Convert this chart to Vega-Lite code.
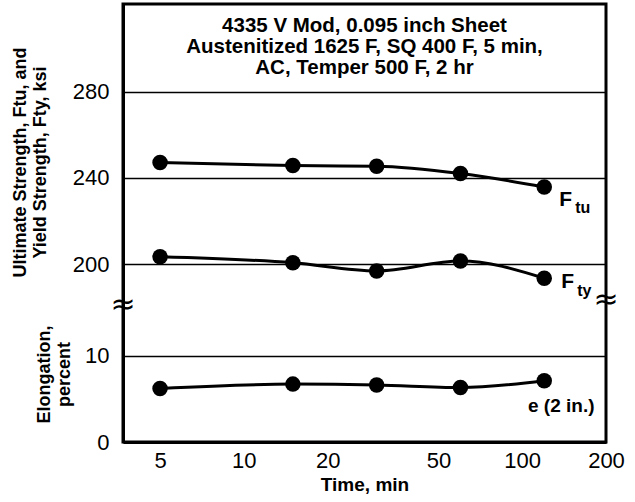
{
  "$schema": "https://vega.github.io/schema/vega-lite/v6.json",
  "width": 483,
  "height": 438,
  "autosize": "none",
  "padding": {"left": 123, "top": 4, "right": 29, "bottom": 60},
  "background": "white",
  "config": {
    "view": {"stroke": "black", "strokeWidth": 3},
    "font": "Liberation Sans",
    "axis": {"labelColor": "black", "titleColor": "black", "domainColor": "black", "gridColor": "black", "gridOpacity": 1, "ticks": false, "labelFlush": false, "labelOverlap": false}
  },
  "datasets": {
    "strength": [
      {"t": 5, "series": "Ftu", "v": 247.1},
      {"t": 15, "series": "Ftu", "v": 245.7},
      {"t": 30, "series": "Ftu", "v": 245.4},
      {"t": 60, "series": "Ftu", "v": 242.0},
      {"t": 120, "series": "Ftu", "v": 235.8},
      {"t": 5, "series": "Fty", "v": 203.4},
      {"t": 15, "series": "Fty", "v": 200.6},
      {"t": 30, "series": "Fty", "v": 196.8},
      {"t": 60, "series": "Fty", "v": 201.4},
      {"t": 120, "series": "Fty", "v": 193.4}
    ],
    "elong": [
      {"t": 5, "e": 6.2},
      {"t": 15, "e": 6.7},
      {"t": 30, "e": 6.6},
      {"t": 60, "e": 6.3},
      {"t": 120, "e": 7.1}
    ],
    "vgrid": [{"t": 5}, {"t": 10}, {"t": 20}, {"t": 50}, {"t": 100}]
  },
  "encoding": {
    "x": {
      "field": "t", "type": "quantitative",
      "scale": {"type": "log", "domain": [3.68, 200], "nice": false},
      "axis": {"values": [5, 10, 20, 50, 100, 200], "format": "d", "grid": false, "domainWidth": 3, "labelFontSize": 22, "labelPadding": 8, "title": "Time, min", "titleFontSize": 19, "titleFontWeight": "bold", "titlePadding": 4}
    }
  },
  "layer": [
    {
      "data": {"name": "strength"},
      "encoding": {
        "y": {
          "field": "v", "type": "quantitative",
          "scale": {"domain": [117.4, 320.7], "nice": false, "zero": false},
          "axis": {"orient": "left", "values": [200, 240, 280], "format": "d", "grid": true, "gridWidth": 1.5, "domainWidth": 3, "labelFontSize": 22, "labelPadding": 14,
            "title": ["Ultimate Strength, Ftu, and", "Yield Strength, Fty, ksi"], "titleFontSize": 18, "titleFontWeight": "bold", "titleLineHeight": 20,
            "titleX": -112, "titleY": 158, "titleAngle": -90, "titleAlign": "center", "titleBaseline": "top"}
        }
      },
      "layer": [
        {
          "data": {"name": "vgrid"},
          "mark": {"type": "rule", "color": "black", "strokeWidth": 1.5},
          "encoding": {"y": {"datum": 280, "type": "quantitative"}, "y2": {"datum": 117.4}}
        },
        {
          "transform": [{"filter": "datum.t == 5 && datum.series == 'Ftu'"}],
          "mark": {"type": "text", "text": ["4335 V Mod, 0.095 inch Sheet", "Austenitized 1625 F, SQ 400 F, 5 min,", "AC, Temper 500 F, 2 hr"], "align": "center", "baseline": "alphabetic", "lineHeight": 21, "fontSize": 20.5, "fontWeight": "bold", "color": "black"},
          "encoding": {"x": {"datum": 27.13}, "y": {"datum": 307.7}}
        },
        {
          "mark": {"type": "line", "color": "black", "strokeWidth": 3, "interpolate": "monotone"},
          "encoding": {"detail": {"field": "series"}}
        },
        {
          "mark": {"type": "circle", "color": "black", "size": 240, "opacity": 1}
        },
        {
          "transform": [{"filter": "datum.t == 120 && datum.series == 'Ftu'"}],
          "mark": {"type": "text", "text": "F", "align": "left", "baseline": "middle", "dx": 15, "dy": 13, "fontSize": 21, "fontWeight": "bold", "color": "black"}
        },
        {
          "transform": [{"filter": "datum.t == 120 && datum.series == 'Ftu'"}],
          "mark": {"type": "text", "text": "tu", "align": "left", "baseline": "middle", "dx": 31, "dy": 21, "fontSize": 16, "fontWeight": "bold", "color": "black"}
        },
        {
          "transform": [{"filter": "datum.t == 120 && datum.series == 'Fty'"}],
          "mark": {"type": "text", "text": "F", "align": "left", "baseline": "middle", "dx": 17, "dy": 4, "fontSize": 21, "fontWeight": "bold", "color": "black"}
        },
        {
          "transform": [{"filter": "datum.t == 120 && datum.series == 'Fty'"}],
          "mark": {"type": "text", "text": "ty", "align": "left", "baseline": "middle", "dx": 33, "dy": 13, "fontSize": 16, "fontWeight": "bold", "color": "black"}
        },
        {
          "transform": [{"filter": "datum.t == 5 && datum.series == 'Fty'"}],
          "mark": {"type": "text", "text": "≈", "align": "center", "baseline": "middle", "fontSize": 30, "font": "DejaVu Sans", "color": "black"},
          "encoding": {"x": {"datum": 3.68}, "y": {"datum": 181}}
        },
        {
          "transform": [{"filter": "datum.t == 5 && datum.series == 'Fty'"}],
          "mark": {"type": "text", "text": "≈", "align": "center", "baseline": "middle", "fontSize": 30, "font": "DejaVu Sans", "color": "black"},
          "encoding": {"x": {"datum": 200}, "y": {"datum": 183.3}}
        }
      ]
    },
    {
      "data": {"name": "elong"},
      "encoding": {
        "y": {
          "field": "e", "type": "quantitative",
          "scale": {"domain": [0, 50.7], "nice": false, "zero": false},
          "axis": {"orient": "left", "values": [0, 10], "format": "d", "grid": true, "gridWidth": 1.5, "domainWidth": 3, "labelFontSize": 22, "labelPadding": 14,
            "title": ["Elongation,", "percent"], "titleFontSize": 18, "titleFontWeight": "bold", "titleLineHeight": 20,
            "titleX": -88, "titleY": 370, "titleAngle": -90, "titleAlign": "center", "titleBaseline": "top"}
        }
      },
      "layer": [
        {"mark": {"type": "line", "color": "black", "strokeWidth": 3, "interpolate": "monotone"}},
        {"mark": {"type": "circle", "color": "black", "size": 240, "opacity": 1}},
        {
          "transform": [{"filter": "datum.t == 120"}],
          "mark": {"type": "text", "text": "e (2 in.)", "align": "center", "baseline": "middle", "dx": 17, "dy": 25, "fontSize": 19, "fontWeight": "bold", "color": "black"}
        }
      ]
    }
  ],
  "resolve": {"scale": {"y": "independent"}}
}
